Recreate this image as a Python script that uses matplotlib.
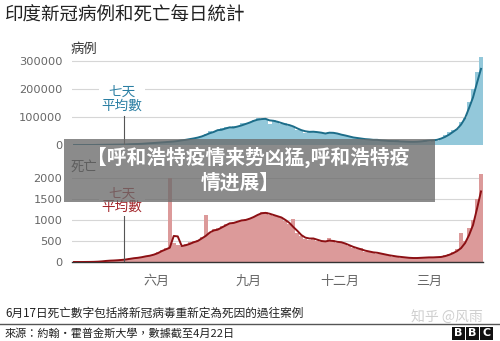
import matplotlib
matplotlib.use("Agg")
import matplotlib.pyplot as plt
from matplotlib.patches import Rectangle
import pandas as pd

plt.rcParams['font.family'] = ['Noto Sans CJK TC', 'DejaVu Sans']

# ---- data (4-day sampling, 2020-03-10 .. 2021-04-22) ----
start_date = "2020-03-10"
n_points = 103

cases_daily = [  # thousands
    0.005, 0.01, 0.02, 0.06, 0.1, 0.2, 0.5, 0.7, 0.9, 1.1,
    1.3, 1.5, 1.7, 2.1, 3.0, 3.4, 3.8, 4.8, 5.7, 6.6,
    7.6, 8.4, 9.7, 11.0, 11.9, 13.1, 14.9, 17.3, 18.6, 22.5,
    24.9, 28.6, 32.7, 40.4, 48.9, 47.7, 54.7, 62.1, 64.4, 64.6,
    69.6, 67.2, 77.3, 78.7, 83.9, 90.8, 96.5, 94.4, 93.3, 75.0,
    88.6, 80.5, 75.8, 78.5, 66.7, 63.4, 54.0, 53.4, 43.9, 46.9,
    50.4, 45.9, 44.9, 38.6, 46.2, 44.4, 41.8, 35.6, 32.9, 30.0,
    24.0, 26.6, 23.9, 18.7, 20.0, 16.4, 18.0, 15.9, 15.1, 13.8,
    14.8, 18.9, 11.4, 12.9, 9.1, 12.1, 11.6, 13.9, 16.7, 12.3,
    18.3, 15.4, 24.9, 35.9, 46.9, 53.5, 56.2, 81.5, 96.9, 152.9,
    200.7, 261.5, 314.8,
]
cases_avg = [  # thousands, 7-day average
    0.005, 0.01, 0.02, 0.05, 0.08, 0.15, 0.4, 0.6, 0.8, 1.0,
    1.2, 1.4, 1.6, 1.9, 2.8, 3.3, 3.6, 4.3, 5.3, 6.3,
    7.2, 8.2, 9.3, 10.3, 11.4, 12.5, 14.2, 16.5, 18.5, 21.0,
    23.5, 26.5, 30.5, 36.0, 42.0, 46.5, 53.0, 54.5, 59.0, 63.0,
    62.5, 66.0, 70.0, 75.0, 80.0, 86.0, 90.5, 92.5, 93.5, 88.0,
    86.5, 83.0, 78.5, 74.0, 71.0, 66.0, 59.0, 53.0, 49.0, 47.0,
    47.5, 46.0, 44.0, 41.0, 44.0, 43.5, 41.0, 37.0, 34.0, 30.5,
    27.0, 25.0, 23.0, 21.0, 20.0, 18.5, 18.5, 16.5, 15.5, 14.2,
    14.0, 13.5, 12.5, 12.0, 11.5, 11.3, 11.7, 12.8, 14.5, 15.8,
    16.8, 18.5, 23.0, 29.0, 37.0, 47.0, 57.0, 73.0, 96.0, 132.0,
    170.0, 222.0, 272.0,
]
deaths_daily = [
    0, 0, 0, 1, 2, 4, 10, 17, 28, 35,
    40, 48, 52, 75, 100, 90, 110, 130, 145, 160,
    190, 240, 280, 330, 2003, 450, 400, 390, 420, 480,
    510, 520, 600, 1120, 700, 780, 800, 850, 900, 940,
    950, 980, 1000, 1020, 1050, 1080, 1130, 1180, 1200, 1130,
    1100, 1080, 1050, 980, 900, 1030, 700, 620, 550, 530,
    580, 510, 480, 470, 560, 520, 450, 480, 430, 390,
    340, 320, 340, 250, 260, 250, 200, 190, 160, 150,
    130, 120, 105, 100, 95, 90, 100, 100, 110, 105,
    110, 120, 130, 160, 200, 250, 300, 700, 500, 800,
    1000, 1500, 2100,
]
deaths_avg = [
    0, 0, 0, 1, 2, 4, 8, 15, 25, 32,
    36, 42, 50, 60, 75, 90, 100, 115, 135, 150,
    175, 210, 260, 300, 340, 620, 610, 380, 400, 430,
    470, 500, 560, 620, 700, 750, 770, 820, 870, 920,
    930, 960, 990, 1000, 1030, 1070, 1120, 1160, 1170, 1150,
    1120, 1090, 1060, 1000, 930, 830, 740, 640, 580, 560,
    560, 530, 500, 490, 510, 500, 480, 470, 440, 400,
    360, 330, 300, 270, 250, 230, 220, 200, 180, 160,
    145, 130, 120, 110, 100, 95, 95, 100, 105, 110,
    110, 115, 120, 140, 170, 210, 260, 330, 450, 640,
    880, 1270, 1680,
]

month_ticks = ["2020-06-01", "2020-09-01", "2020-12-01", "2021-03-01"]
month_labels = ["六月", "九月", "十二月", "三月"]
case_ticks = [0, 100000, 200000, 300000]
death_ticks = [0, 500, 1000, 1500, 2000]

dates = pd.date_range(start_date, periods=n_points, freq="4D")
cases_daily_v = [v * 1000 for v in cases_daily]
cases_avg_v = [v * 1000 for v in cases_avg]

W, H = 500, 341
fig = plt.figure(figsize=(W / 100, H / 100), dpi=100)
fig.patch.set_facecolor("white")


def fx(x):
    return x / W


def fy(y):
    return 1 - y / H


xlim = (pd.Timestamp("2020-03-08"), pd.Timestamp("2021-04-24"))
grid_c = "#d6d6d6"
tick_c = "#666666"

# ---- cases axes ----
ax1 = fig.add_axes([fx(72), fy(145), fx(483) - fx(72), (145 - 55.4) / H])
ax1.bar(dates, cases_daily_v, width=4.0, color="#93c8da", linewidth=0, zorder=2)
ax1.plot(dates, cases_avg_v, color="#1d6d89", lw=1.4, zorder=3)
ax1.set_xlim(*xlim)
ax1.set_ylim(0, 320000)
ax1.set_yticks(case_ticks)
ax1.set_yticklabels([str(t) for t in case_ticks])
ax1.set_xticks([])
for s in ax1.spines.values():
    s.set_visible(False)
ax1.grid(axis="y", color=grid_c, lw=0.8, zorder=0)
ax1.tick_params(axis="y", length=0, pad=7, labelsize=8.2, labelcolor=tick_c)
for lab in ax1.get_yticklabels():
    lab.set_family("DejaVu Sans")
ann_x = pd.Timestamp("2020-04-29")
ax1.plot([ann_x, ann_x], [0, 103000], color="#555555", lw=0.8, zorder=4)
ax1.text(pd.Timestamp("2020-04-27"), 166000, "七天\n平均數", ha="center", va="center",
         fontsize=9.8, color="#2b7fa3", linespacing=0.95, zorder=5,
         bbox=dict(facecolor="white", edgecolor="none", pad=2))

# ---- deaths axes ----
ax2 = fig.add_axes([fx(72), fy(262), fx(483) - fx(72), 88.2 / H])
ax2.bar(dates, deaths_daily, width=4.0, color="#dc9a9a", linewidth=0, zorder=2)
ax2.plot(dates, deaths_avg, color="#8c1014", lw=1.4, zorder=3)
ax2.set_xlim(*xlim)
ax2.set_ylim(0, 2100)
ax2.set_yticks(death_ticks)
ax2.set_yticklabels([str(t) for t in death_ticks])
ax2.set_xticks([pd.Timestamp(d) for d in month_ticks])
ax2.set_xticklabels(month_labels)
for k, s in ax2.spines.items():
    s.set_visible(k == "bottom")
ax2.spines["bottom"].set_color("#333333")
ax2.spines["bottom"].set_linewidth(1.0)
ax2.grid(axis="y", color=grid_c, lw=0.8, zorder=0)
ax2.tick_params(axis="y", length=0, pad=7, labelsize=8.2, labelcolor=tick_c)
ax2.tick_params(axis="x", length=0, pad=9, labelsize=9.4, labelcolor=tick_c)
for lab in ax2.get_yticklabels():
    lab.set_family("DejaVu Sans")
ax2.plot([ann_x, ann_x], [0, 1095], color="#555555", lw=0.8, zorder=4)
ax2.text(pd.Timestamp("2020-04-27"), 1476, "七天\n平均數", ha="center", va="center",
         fontsize=9.8, color="#a3262b", linespacing=0.95, zorder=5,
         bbox=dict(facecolor="white", edgecolor="none", pad=2))

# ---- texts ----
fig.text(fx(5), fy(16), "印度新冠病例和死亡每日統計", fontsize=13.3, color="#222222",
         ha="left", va="center")
fig.text(fx(71), fy(49), "病例", fontsize=9.6, color="#333333", ha="left", va="center")
fig.text(fx(71), fy(167), "死亡", fontsize=9.6, color="#333333", ha="left", va="center")
fig.text(fx(5), fy(313), "6月17日死亡數字包括將新冠病毒重新定為死因的過往案例",
         fontsize=8.4, color="#222222", ha="left", va="center")
fig.add_artist(plt.Line2D([0, 1], [fy(323.5), fy(323.5)], color="#555555", lw=1.0))
fig.text(fx(5), fy(333), "來源：約翰・霍普金斯大學，數據截至4月22日",
         fontsize=8.0, color="#222222", ha="left", va="center")
fig.text(fx(447), fy(318), "知乎 @风雨", fontsize=10, color="#cfcfcf", ha="center",
         va="center", family=["Noto Sans CJK SC", "DejaVu Sans"])

# BBC logo
for i, ch in enumerate("BBC"):
    x0 = 452 + i * 14
    fig.patches.append(Rectangle((fx(x0), fy(340)), 12.5 / W, 13 / H,
                                 transform=fig.transFigure, facecolor="#111111",
                                 edgecolor="none"))
    fig.text(fx(x0 + 6.25), fy(333.5), ch, fontsize=8, fontweight="bold", color="white",
             ha="center", va="center", family="DejaVu Sans")

# overlay banner
fig.patches.append(Rectangle((fx(64), fy(202)), (435 - 64) / W, (202 - 139) / H,
                             transform=fig.transFigure, facecolor="#6b6b6b",
                             alpha=0.78, edgecolor="none", zorder=10))
fig.text(fx(248), fy(157), "【呼和浩特疫情来势凶猛,呼和浩特疫", fontsize=14.2,
         fontweight="bold", color="white", ha="center", va="center", zorder=11,
         family=["Noto Sans CJK SC", "DejaVu Sans"])
fig.text(fx(240), fy(183), "情进展】", fontsize=14.2,
         fontweight="bold", color="white", ha="center", va="center", zorder=11,
         family=["Noto Sans CJK SC", "DejaVu Sans"])

fig.savefig("out.png", dpi=100, facecolor="white")
